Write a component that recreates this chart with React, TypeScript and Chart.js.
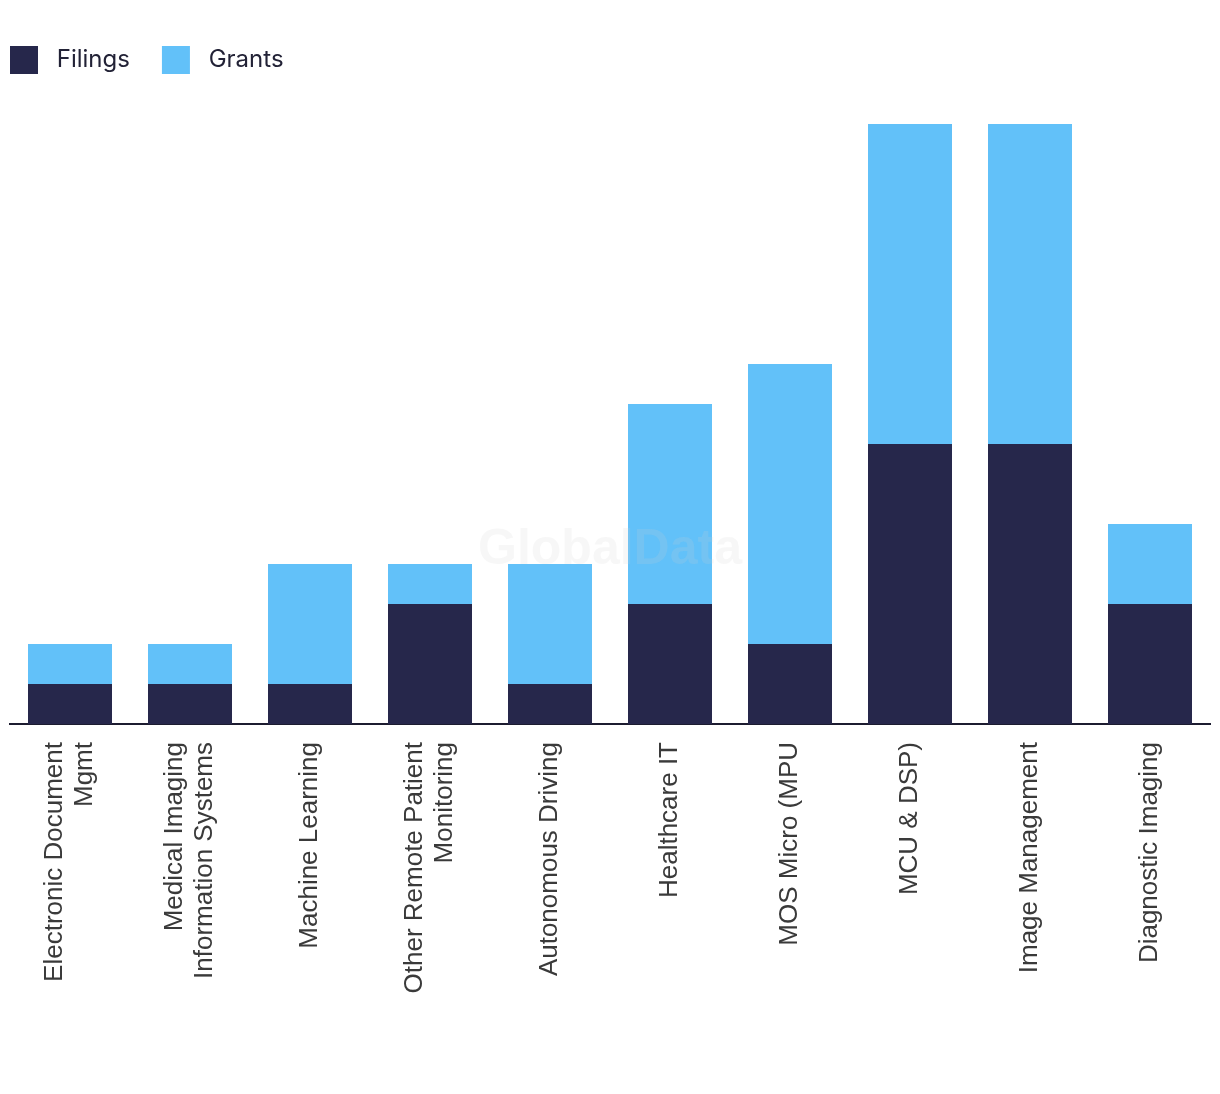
import React, { useEffect, useRef } from "react";
import { Chart, registerables } from "chart.js";

Chart.register(...registerables);

const categories: (string | string[])[] = [
  ["Electronic Document", "Mgmt"],
  ["Medical Imaging", "Information Systems"],
  "Machine Learning",
  ["Other Remote Patient", "Monitoring"],
  "Autonomous Driving",
  "Healthcare IT",
  "MOS Micro (MPU",
  "MCU & DSP)",
  "Image Management",
  "Diagnostic Imaging",
];

const filings = [1, 1, 1, 3, 1, 3, 2, 7, 7, 3];
const grants = [1, 1, 3, 1, 3, 5, 7, 8, 8, 2];

const seriesNames = ["Filings", "Grants"];
const seriesColors = ["#26274b", "#62c1f9"];
const yMax = 16;

const tickFontSize = 26;
const tickLineHeight = 1.15;

const watermarkPlugin = {
  id: "watermark",
  afterDatasetsDraw(chart: any) {
    const { ctx, chartArea } = chart;
    ctx.save();
    ctx.font = "bold 50px 'Liberation Sans', Arial, sans-serif";
    ctx.fillStyle = "rgba(205,205,205,0.17)";
    ctx.textAlign = "center";
    ctx.textBaseline = "alphabetic";
    ctx.fillText("GlobalData", (chartArea.left + chartArea.right) / 2, 564);
    ctx.restore();
  },
};

// Center multi-line rotated category labels on their tick
const centerMultilinePlugin = {
  id: "centerMultiline",
  beforeDraw(chart: any) {
    const scale = chart.scales.x;
    if (!scale) return;
    const items = scale.getLabelItems(chart.chartArea);
    const lh = tickFontSize * tickLineHeight;
    items.forEach((item: any) => {
      const n = Array.isArray(item.label) ? item.label.length : 1;
      if (n > 1 && !item._centered) {
        item.options.translation[0] -= ((n - 1) * lh) / 2;
        item._centered = true;
      }
    });
  },
};

export default function App() {
  const canvasRef = useRef<HTMLCanvasElement | null>(null);

  useEffect(() => {
    if (!canvasRef.current) return;
    const chart = new Chart(canvasRef.current, {
      type: "bar",
      data: {
        labels: categories,
        datasets: [
          {
            label: seriesNames[0],
            data: filings,
            backgroundColor: seriesColors[0],
            borderWidth: 0,
          },
          {
            label: seriesNames[1],
            data: grants,
            backgroundColor: seriesColors[1],
            borderWidth: 0,
          },
        ],
      },
      options: {
        responsive: false,
        animation: false,
        layout: { padding: { top: 14, left: -22, right: 10, bottom: 0 } },
        datasets: {
          bar: { barPercentage: 0.7, categoryPercentage: 1 },
        },
        plugins: {
          legend: {
            position: "top",
            align: "start",
            labels: {
              boxWidth: 28,
              boxHeight: 28,
              padding: 32,
              color: "#222236",
              font: { family: "Inter, 'Noto Sans', sans-serif", size: 24 },
              generateLabels(chart: any) {
                const base = Chart.defaults.plugins.legend.labels.generateLabels(chart);
                return base.map((l: any) => ({ ...l, text: " " + l.text }));
              },
            },
          },
          tooltip: { enabled: false },
        },
        scales: {
          x: {
            stacked: true,
            grid: { display: false, drawTicks: false },
            border: { display: true, color: "#1c1c30", width: 2 },
            ticks: {
              autoSkip: false,
              minRotation: 90,
              maxRotation: 90,
              padding: 18,
              color: "#3a3a3a",
              font: {
                family: "'Liberation Sans', Arial, sans-serif",
                size: tickFontSize,
                lineHeight: tickLineHeight,
              },
            },
            afterFit(scale: any) {
              scale.height = 370;
            },
          },
          y: {
            stacked: true,
            display: true,
            min: 0,
            max: yMax,
            grid: { display: false, drawTicks: false },
            border: { display: false },
            ticks: { display: false },
            afterFit(scale: any) {
              scale.width = 32;
            },
          },
        },
      },
      plugins: [watermarkPlugin, centerMultilinePlugin],
    });
    return () => chart.destroy();
  }, []);

  return (
    <div style={{ position: "absolute", left: 0, top: 0, width: 1220, height: 1094, background: "#fff" }}>
      <canvas ref={canvasRef} width={1220} height={1094} />
    </div>
  );
}
